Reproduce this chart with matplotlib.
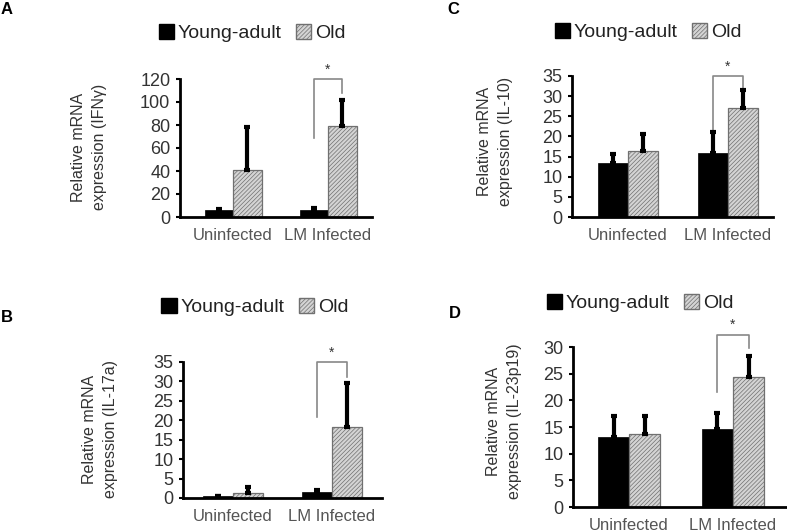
import matplotlib
matplotlib.use("Agg")
import matplotlib.pyplot as plt
from matplotlib.patches import Patch
import numpy as np

plt.rcParams['font.family'] = ['Liberation Sans', 'DejaVu Sans']
plt.rcParams['hatch.linewidth'] = 0.5

categories = ["Uninfected", "LM Infected"]
series_names = ["Young-adult", "Old"]

# Panel A: IFN-gamma
a_young = [6.0, 6.0]
a_young_err = [1.2, 1.5]
a_old = [41.0, 79.0]
a_old_err = [37.0, 23.0]
a_yticks = [0, 20, 40, 60, 80, 100, 120]
a_ylabel = "Relative mRNA\nexpression (IFN\u03b3)"

# Panel B: IL-17a
b_young = [0.4, 1.45]
b_young_err = [0.1, 0.55]
b_old = [1.2, 18.3]
b_old_err = [1.7, 11.2]
b_yticks = [0, 5, 10, 15, 20, 25, 30, 35]
b_ylabel = "Relative mRNA\nexpression (IL-17a)"

# Panel C: IL-10
c_young = [13.3, 16.0]
c_young_err = [2.3, 5.2]
c_old = [16.5, 27.0]
c_old_err = [4.1, 4.5]
c_yticks = [0, 5, 10, 15, 20, 25, 30, 35]
c_ylabel = "Relative mRNA\nexpression (IL-10)"

# Panel D: IL-23p19
d_young = [13.2, 14.6]
d_young_err = [3.9, 3.0]
d_old = [13.7, 24.4]
d_old_err = [3.4, 3.9]
d_yticks = [0, 5, 10, 15, 20, 25, 30]
d_ylabel = "Relative mRNA\nexpression (IL-23p19)"

# significance brackets (left leg bottom, top, right leg bottom, star)
a_sig = [69, 120, 108, 128]
b_sig = [20.8, 35, 31.1, 37.3]
c_sig = [21.1, 35, 31.5, 37.2]
d_sig = [21.6, 32.3, 29.8, 34.1]

W, H = 787, 532
fig = plt.figure(figsize=(W / 100, H / 100), dpi=100)

BW = 0.30
OLD_FACE = '#d4d4d4'
OLD_EDGE = '#707070'
HATCH = '////////'


def px_axes(l, r, t, b):
    return fig.add_axes([l / W, (H - b) / H, (r - l) / W, (b - t) / H])


def panel(rect, xlim, young, young_err, old, old_err, yticks, ylabel, sig,
          ylab_xy, legend_xy, letter, letter_xy):
    ax = px_axes(*rect)
    x = np.arange(len(categories))
    ax.bar(x - BW / 2, young, BW, color='black', edgecolor='black', lw=0.5, zorder=2)
    ax.bar(x + BW / 2, old, BW, color=OLD_FACE, edgecolor=OLD_EDGE, hatch=HATCH,
           lw=0.9, zorder=2)
    ax.errorbar(x - BW / 2, young, yerr=[np.zeros(len(young)), young_err], fmt='none',
                ecolor='black', elinewidth=3, capsize=2.5, capthick=3, zorder=3)
    ax.errorbar(x + BW / 2, old, yerr=[np.zeros(len(old)), old_err], fmt='none',
                ecolor='black', elinewidth=3, capsize=2.5, capthick=3, zorder=3)
    ax.set_xlim(*xlim)
    ax.set_ylim(yticks[0], yticks[-1])
    ax.set_yticks(yticks)
    ax.set_xticks(x)
    ax.set_xticklabels(categories, fontsize=12, color='#555555')
    ax.tick_params(axis='x', length=0, pad=8)
    ax.tick_params(axis='y', length=3, width=1.5, labelsize=13,
                   labelcolor='#333333', pad=4)
    for s in ['top', 'right']:
        ax.spines[s].set_visible(False)
    for s in ['left', 'bottom']:
        ax.spines[s].set_linewidth(2)
    ax.patch.set_alpha(0)
    # significance bracket
    xl = x[1] - BW / 2
    xr = x[1] + BW / 2
    ax.plot([xl, xl, xr, xr], [sig[0], sig[1], sig[1], sig[2]], color='#888888',
            lw=1.2, clip_on=False, zorder=1)
    ax.text((xl + xr) / 2, sig[3], '*', ha='center', va='center', fontsize=10,
            color='#333333', clip_on=False)
    fig.text(ylab_xy[0] / W, 1 - ylab_xy[1] / H, ylabel, rotation=90, ha='center',
             va='center', fontsize=11.5, color='#333333', linespacing=1.45,
             multialignment='center')
    handles = [Patch(facecolor='black', edgecolor='black'),
               Patch(facecolor=OLD_FACE, edgecolor=OLD_EDGE, hatch=HATCH)]
    fig.legend(handles, series_names, loc='center',
               bbox_to_anchor=(legend_xy[0] / W, 1 - legend_xy[1] / H), ncol=2,
               frameon=False, fontsize=14, handlelength=0.8, handleheight=0.8,
               handletextpad=0.2, columnspacing=0.7, borderpad=0, labelcolor='#222222')
    fig.text(letter_xy[0] / W, 1 - letter_xy[1] / H, letter, ha='center', va='center',
             fontsize=12, fontweight='bold')
    return ax


panel((180, 372, 79, 217), (-0.558, 1.463), a_young, a_young_err, a_old, a_old_err,
      a_yticks, a_ylabel, a_sig, (89, 147), (252, 33), 'A', (7, 10))
panel((183, 382, 362, 498), (-0.505, 1.505), b_young, b_young_err, b_old, b_old_err,
      b_yticks, b_ylabel, b_sig, (100, 429), (255, 307), 'B', (7, 317))
panel((572, 773, 76, 217), (-0.56, 1.45), c_young, c_young_err, c_old, c_old_err,
      c_yticks, c_ylabel, c_sig, (495, 141), (648, 32), 'C', (453, 9))
panel((573, 787, 347, 507), (-0.54, 1.52), d_young, d_young_err, d_old, d_old_err,
      d_yticks, d_ylabel, d_sig, (504, 421), (640, 303), 'D', (455, 314))

fig.savefig("out.png", dpi=100)
